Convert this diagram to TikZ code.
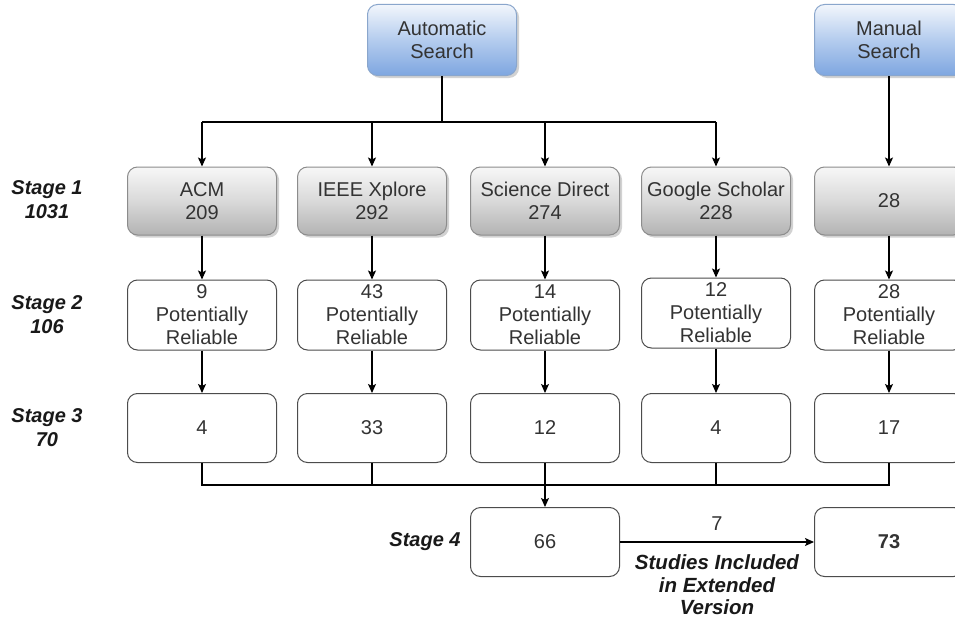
\documentclass[tikz,border=0pt]{standalone}
\usepackage{fontspec}
\setmainfont{Liberation Sans}
\usetikzlibrary{arrows.meta,shadows,calc}
\definecolor{bluetop}{HTML}{F2F6FC}
\definecolor{bluemid}{HTML}{B4CCEE}
\definecolor{bluebot}{HTML}{7EA6E0}
\definecolor{blueline}{HTML}{8AA6CC}
\definecolor{graytop}{HTML}{F7F7F7}
\definecolor{graymid}{HTML}{D9D9D9}
\definecolor{graybot}{HTML}{B3B3B3}
\definecolor{grayline}{HTML}{8C8C8C}
\definecolor{txt}{HTML}{333333}
\tikzset{
  box/.style={rounded corners=10pt, minimum width=149pt, align=center,
    font=\fontsize{20}{23}\selectfont, text=txt, line width=1pt},
  plainbox/.style={box, draw=black!70, fill=white},
  glassgray/.style={box, draw=grayline, top color=graytop, bottom color=graybot, middle color=graymid,
    drop shadow={opacity=0.35, shadow xshift=2.5pt, shadow yshift=-2.5pt}},
  glassblue/.style={box, draw=blueline, top color=bluetop, bottom color=bluebot, middle color=bluemid,
    drop shadow={opacity=0.35, shadow xshift=2.5pt, shadow yshift=-2.5pt}},
  stagelbl/.style={align=center, font=\fontsize{20}{24}\selectfont\bfseries\itshape, text=black!90},
  conn/.style={line width=1.1pt, black},
  arr/.style={conn, -{Stealth[length=9pt,width=8pt,inset=2pt]}}
}
\begin{document}
\begin{tikzpicture}[x=1pt,y=-1pt]
\clip (0,0) rectangle (955,618);
\fill[white] (0,0) rectangle (955,618);

% top sources
\node[glassblue, minimum height=71pt] (auto) at (442,40) {Automatic\\Search};
\node[glassblue, minimum height=71pt] (manual) at (889,40) {Manual\\Search};

% stage 1
\node[glassgray, minimum height=68pt] (s1a) at (202,201) {ACM\\209};
\node[glassgray, minimum height=68pt] (s1b) at (372,201) {IEEE Xplore\\292};
\node[glassgray, minimum height=68pt] (s1c) at (545,201) {Science Direct\\274};
\node[glassgray, minimum height=68pt] (s1d) at (716,201) {Google Scholar\\228};
\node[glassgray, minimum height=68pt] (s1e) at (889,201) {28};

% stage 2
\node[plainbox, minimum height=70pt] (s2a) at (202,315) {9\\Potentially\\Reliable};
\node[plainbox, minimum height=70pt] (s2b) at (372,315) {43\\Potentially\\Reliable};
\node[plainbox, minimum height=70pt] (s2c) at (545,315) {14\\Potentially\\Reliable};
\node[plainbox, minimum height=70pt] (s2d) at (716,313) {12\\Potentially\\Reliable};
\node[plainbox, minimum height=70pt] (s2e) at (889,315) {28\\Potentially\\Reliable};

% stage 3
\node[plainbox, minimum height=69pt] (s3a) at (202,428) {4};
\node[plainbox, minimum height=69pt] (s3b) at (372,428) {33};
\node[plainbox, minimum height=69pt] (s3c) at (545,428) {12};
\node[plainbox, minimum height=69pt] (s3d) at (716,428) {4};
\node[plainbox, minimum height=69pt] (s3e) at (889,428) {17};

% stage 4
\node[plainbox, minimum height=69pt] (s4a) at (545,542) {66};
\node[plainbox, minimum height=69pt] (s4b) at (889,542) {\bfseries 73};

% stage labels
\node[stagelbl] (l1) at (47,200) {Stage 1\\1031};
\node[stagelbl] (l2) at (47,315) {Stage 2\\106};
\node[stagelbl] (l3) at (47,428) {Stage 3\\70};
\node[stagelbl] (l4) at (425,542) {Stage 4};

% connectors: automatic search distribution
\coordinate (split) at (442,122);
\draw[conn] (auto.south) -- (split);
\draw[conn] (s1a.north |- split) -- (s1d.north |- split);
\draw[arr] (s1a.north |- split) -- (s1a.north);
\draw[arr] (s1b.north |- split) -- (s1b.north);
\draw[arr] (s1c.north |- split) -- (s1c.north);
\draw[arr] (s1d.north |- split) -- (s1d.north);
\draw[arr] (manual.south) -- (s1e.north);

% stage 1 -> 2 -> 3
\foreach \i in {a,b,c,d,e} {
  \draw[arr] (s1\i.south) -- (s2\i.north);
  \draw[arr] (s2\i.south) -- (s3\i.north);
}

% bus to stage 4
\coordinate (bus) at (545,485);
\draw[conn] (s3a.south) -- (s3a.south |- bus) -- (s3e.south |- bus) -- (s3e.south);
\draw[conn] (s3b.south) -- (s3b.south |- bus);
\draw[conn] (s3d.south) -- (s3d.south |- bus);
\draw[arr] (s3c.south) -- (s4a.north);

% extension
\draw[arr] (s4a.east) -- (s4b.west)
  node[midway, above=8pt, font=\fontsize{20}{23}\selectfont, text=txt] (seven) {7}
  node[midway, below=9pt, align=center, font=\fontsize{20.5}{22.5}\selectfont\bfseries\itshape, text=black!90] (studies) {Studies Included\\in Extended\\Version};
\end{tikzpicture}
\end{document}
